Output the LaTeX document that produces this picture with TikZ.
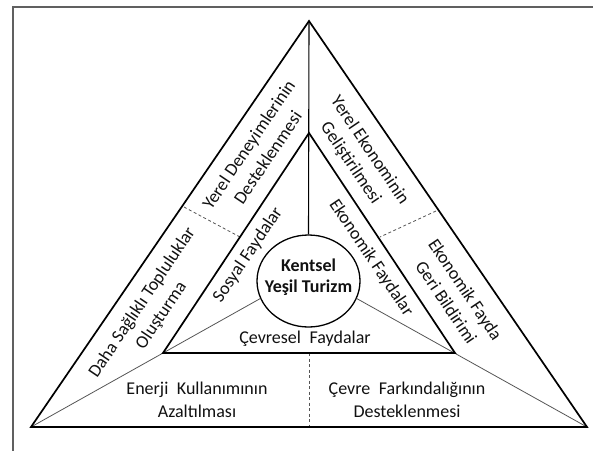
\documentclass[tikz,border=0pt]{standalone}
\usepackage{fontspec}
\setmainfont{Carlito}
\usetikzlibrary{shapes.geometric}
\definecolor{framecol}{HTML}{606060}
\definecolor{thincol}{HTML}{555555}
\definecolor{txtcol}{HTML}{111111}
\tikzset{
  tri/.style={draw=black, line width=1.7pt, line join=miter},
  thinline/.style={draw=thincol, line width=0.8pt},
  vline/.style={draw=black, line width=1.1pt},
  dashline/.style={draw=thincol, line width=0.8pt, dash pattern=on 3pt off 2.5pt},
  lbl/.style={text=txtcol, font=\fontsize{18}{23}\selectfont, align=center, inner sep=0pt},
}
\begin{document}
\begin{tikzpicture}[x=1pt,y=-1pt]
\useasboundingbox (0,0) rectangle (593,450);
% frame
\coordinate (fbl) at (13,451);
\coordinate (ftl) at (13,7);
\coordinate (ftr) at (594,7);
\draw[framecol, line width=2pt] (fbl) -- (ftl) -- (ftr);
% triangles
\coordinate (oa) at (309,21);
\coordinate (obl) at (31,427);
\coordinate (obr) at (587,427);
\coordinate (ia) at (309,133);
\coordinate (ibl) at (163,353);
\coordinate (ibr) at (455,353);
% circle
\node[ellipse, draw=black, line width=1.3pt, minimum width=103pt, minimum height=92pt, inner sep=0pt] (c) at (308.5,281) {};
\node[lbl, font=\fontsize{18}{21}\selectfont\bfseries] (ct) at (308.5,277) {Kentsel\\Yeşil Turizm};
% thin lines
\draw[thinline] (obl) -- (c.200);
\draw[thinline] (obr) -- (c.340);
\draw[vline] (oa) -- (c.north);
% dashed lines
\coordinate (dl1) at (184,207);
\coordinate (dl2) at (240,237);
\coordinate (dr1) at (436,211);
\coordinate (dr2) at (380,237);
\coordinate (db1) at (309,353);
\coordinate (db2) at (309,427);
\draw[dashline] (dl1) -- (dl2);
\draw[dashline] (dr1) -- (dr2);
\draw[dashline] (db1) -- (db2);
% triangles on top
\draw[tri] (oa) -- (obl) -- (obr) -- cycle;
\draw[tri] (ia) -- (ibl) -- (ibr) -- cycle;
% labels
\node[lbl, rotate=56] (t1) at (258,151) {Yerel Deneyimlerinin\\Desteklenmesi};
\node[lbl, rotate=-56] (t2) at (360,157) {Yerel Ekonominin\\Geliştirilmesi};
\node[lbl, rotate=56] (t3) at (152,309) {Daha Sağlıklı Topluluklar\\Oluşturma};
\node[lbl, rotate=-56] (t4) at (456,296) {Ekonomik Fayda\\Geri Bildirimi};
\node[lbl, rotate=56] (t5) at (248,255) {Sosyal Faydalar};
\node[lbl, rotate=-56] (t6) at (371,258) {Ekonomik Faydalar};
\node[lbl] (t7) at (305,339) {Çevresel\hspace{0.25em} Faydalar};
\node[lbl] (t8) at (197,400) {Enerji\hspace{0.25em} Kullanımının\\Azaltılması};
\node[lbl] (t9) at (407,400) {Çevre\hspace{0.25em} Farkındalığının\\Desteklenmesi};
\end{tikzpicture}
\end{document}
